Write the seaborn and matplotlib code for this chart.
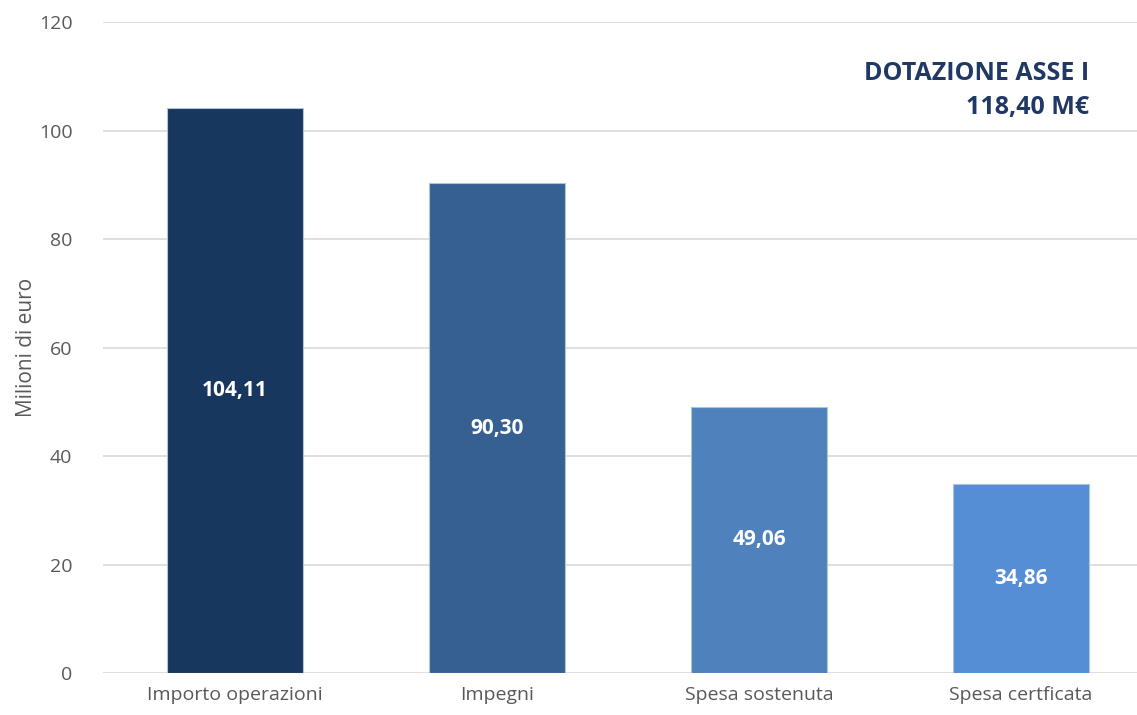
import matplotlib
matplotlib.use('Agg')
import matplotlib.pyplot as plt
import seaborn as sns
import pandas as pd

categorie = ["Importo operazioni", "Impegni", "Spesa sostenuta", "Spesa certficata"]
valori = [104.11, 90.30, 49.06, 34.86]
etichette = ["104,11", "90,30", "49,06", "34,86"]
colori = ["#17375E", "#376092", "#4F81BD", "#558ED5"]

sns.set_theme(style="white")
plt.rcParams['font.family'] = ['Open Sans', 'DejaVu Sans']

df = pd.DataFrame({"categoria": categorie, "valore": valori})

fig = plt.figure(figsize=(11.37, 7.15), dpi=100)
ax = fig.add_axes([0.0906, 0.0587, 0.9094, 0.9104])

sns.barplot(data=df, x="categoria", y="valore", hue="categoria", palette=colori,
            saturation=1, width=0.52, legend=False, ax=ax, zorder=3,
            edgecolor="#AFC3DA", linewidth=0.8)

ax.set_ylim(0, 120)
ax.set_yticks(range(0, 121, 20))
ax.set_xlim(-0.504, 3.443)
ax.yaxis.grid(True, color="#D9D9D9", linewidth=1.2, zorder=0)
for s in ax.spines.values():
    s.set_visible(False)
ax.tick_params(axis="both", length=0, colors="#595959", labelsize=14)
ax.tick_params(axis="y", pad=22)
ax.tick_params(axis="x", pad=9)
ax.set_xlabel("")
ax.set_ylabel("Milioni di euro", fontsize=15, color="#595959", labelpad=1)

for i, (v, t) in enumerate(zip(valori, etichette)):
    ax.text(i, v / 2, t, ha="center", va="center", color="white",
            fontsize=15, fontweight="bold", zorder=4)

ax.text(0.954, 0.94, "DOTAZIONE ASSE I\n118,40 M€", transform=ax.transAxes,
        ha="right", va="top", color="#1F3864", fontsize=18, fontweight="bold",
        linespacing=1.45)

fig.savefig("out.png", dpi=100)
